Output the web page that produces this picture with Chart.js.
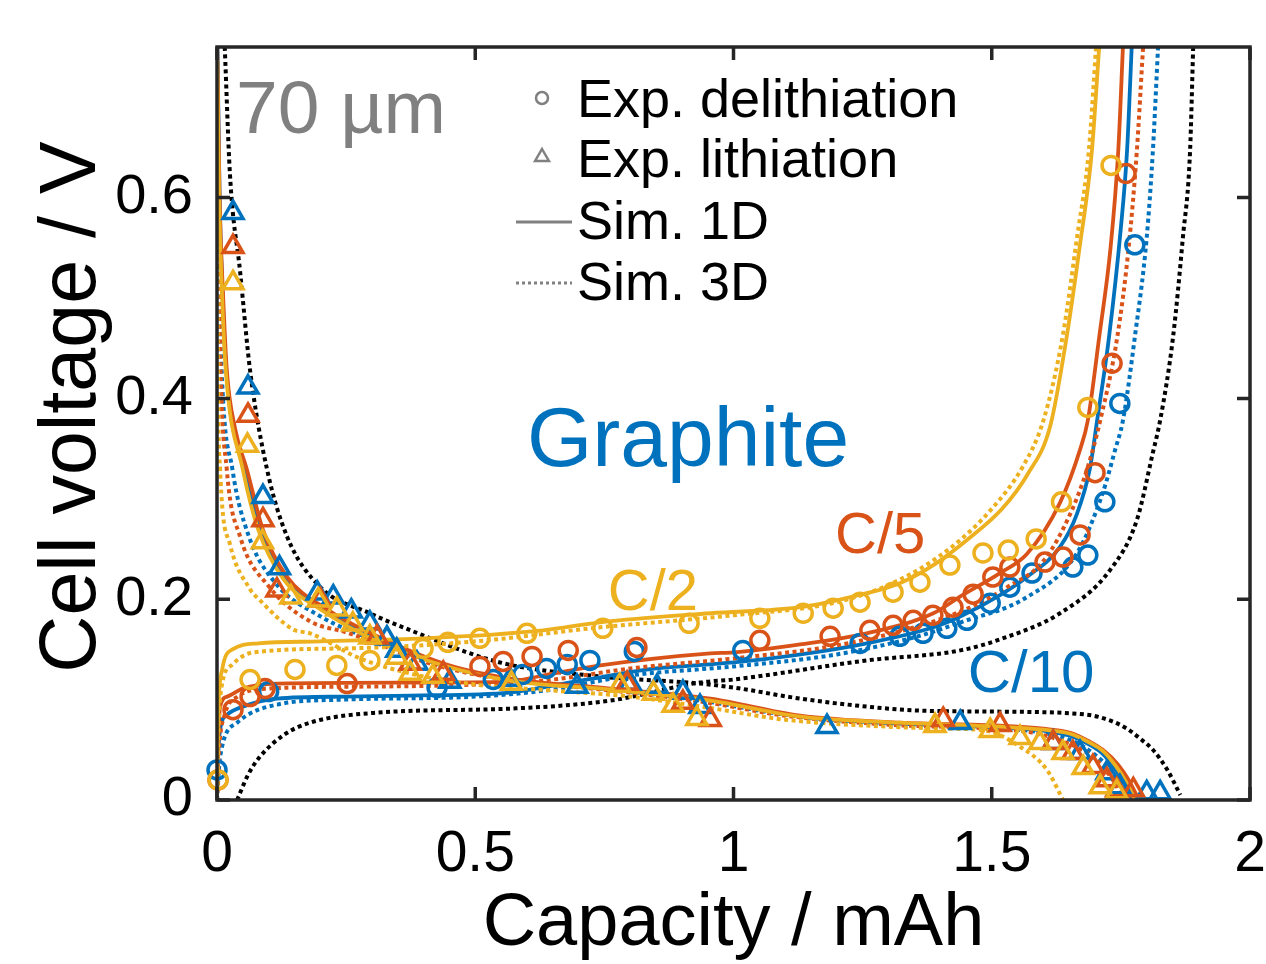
<!DOCTYPE html>
<html><head><meta charset="utf-8">
<script src="https://cdn.jsdelivr.net/npm/chart.js@4.4.1/dist/chart.umd.min.js"></script>
<style>html,body{margin:0;padding:0;background:#fff;}#wrap{width:1266px;height:964px;}</style>
</head><body><div id="wrap"><canvas id="c" width="1266" height="964"></canvas></div>
<script>
// ---------- axis ticks ----------
const xTicks = [0, 0.5, 1, 1.5, 2];
const xTickLabels = ['0', '0.5', '1', '1.5', '2'];
const yTicks = [0, 0.2, 0.4, 0.6];
const yTickLabels = ['0', '0.2', '0.4', '0.6'];

// ---------- experimental: delithiation (circles) ----------
const expDelithC10 = [[0,0.03],[0.1,0.108],[0.426,0.112],[0.535,0.12],[0.592,0.125],[0.638,0.131],[0.678,0.135],[0.722,0.139],[0.808,0.148],[1.018,0.149],[1.245,0.156],[1.322,0.163],[1.367,0.166],[1.413,0.171],[1.452,0.179],[1.497,0.196],[1.535,0.212],[1.578,0.226],[1.657,0.232],[1.686,0.244],[1.719,0.297],[1.748,0.395],[1.777,0.553]];
const expDelithC5 = [[0.002,0.02],[0.031,0.09],[0.064,0.103],[0.093,0.111],[0.252,0.116],[0.509,0.133],[0.554,0.138],[0.61,0.143],[0.68,0.149],[0.813,0.152],[1.051,0.159],[1.187,0.163],[1.264,0.169],[1.309,0.174],[1.348,0.179],[1.386,0.184],[1.425,0.192],[1.464,0.205],[1.502,0.222],[1.535,0.232],[1.603,0.237],[1.638,0.242],[1.671,0.264],[1.7,0.326],[1.733,0.435],[1.76,0.624]];
const expDelithC2 = [[0.002,0.02],[0.064,0.12],[0.151,0.13],[0.232,0.134],[0.296,0.139],[0.399,0.151],[0.447,0.157],[0.509,0.161],[0.6,0.166],[0.747,0.171],[0.914,0.176],[1.051,0.181],[1.135,0.186],[1.193,0.191],[1.245,0.197],[1.309,0.207],[1.361,0.217],[1.419,0.234],[1.483,0.246],[1.532,0.249],[1.586,0.26],[1.635,0.297],[1.686,0.391],[1.731,0.632]];

// ---------- experimental: lithiation (triangles) ----------
const expLithC10 = [[0.031,0.585],[0.06,0.411],[0.089,0.302],[0.121,0.231],[0.194,0.206],[0.225,0.202],[0.26,0.188],[0.296,0.176],[0.329,0.161],[0.348,0.149],[0.387,0.136],[0.451,0.118],[0.567,0.12],[0.697,0.113],[0.8,0.116],[0.852,0.113],[0.902,0.107],[0.935,0.093],[1.181,0.073],[1.439,0.077],[1.619,0.057],[1.671,0.047],[1.723,0.027],[1.748,0.013],[1.8,0.007],[1.826,0.007]];
const expLithC5 = [[0.031,0.551],[0.06,0.383],[0.089,0.279],[0.116,0.209],[0.2,0.199],[0.31,0.162],[0.374,0.136],[0.438,0.126],[0.794,0.116],[0.902,0.097],[0.955,0.08],[1.406,0.08],[1.516,0.075],[1.619,0.057],[1.657,0.047],[1.696,0.033],[1.723,0.02],[1.742,0.01],[1.774,0.01]];
const expLithC2 = [[0.031,0.515],[0.059,0.353],[0.088,0.257],[0.143,0.202],[0.196,0.199],[0.232,0.19],[0.263,0.175],[0.296,0.162],[0.348,0.142],[0.374,0.126],[0.418,0.123],[0.57,0.116],[0.78,0.114],[0.845,0.106],[0.883,0.094],[0.929,0.081],[1.39,0.074],[1.497,0.069],[1.555,0.062],[1.593,0.057],[1.638,0.047],[1.677,0.032],[1.71,0.013],[1.742,0.008]];

// ---------- simulation 1D (solid) ----------
const sim1DDelithC10 = [[0,0],[0.002,0.04],[0.006,0.07],[0.02,0.085],[0.05,0.093],[0.116,0.101],[0.25,0.103],[0.374,0.104],[0.567,0.107],[0.65,0.114],[0.75,0.123],[0.85,0.131],[1.0,0.137],[1.13,0.145],[1.258,0.156],[1.387,0.172],[1.44,0.183],[1.516,0.204],[1.568,0.222],[1.632,0.252],[1.665,0.285],[1.69,0.33],[1.704,0.378],[1.727,0.461],[1.75,0.57],[1.762,0.647],[1.771,0.75]];
const sim1DDelithC5 = [[0,0],[0.002,0.05],[0.006,0.093],[0.02,0.103],[0.05,0.111],[0.116,0.116],[0.374,0.117],[0.567,0.118],[0.631,0.124],[0.742,0.134],[0.955,0.146],[1.0,0.147],[1.129,0.155],[1.258,0.166],[1.387,0.186],[1.44,0.203],[1.516,0.226],[1.568,0.245],[1.632,0.296],[1.671,0.349],[1.686,0.378],[1.708,0.461],[1.73,0.55],[1.745,0.647],[1.754,0.75]];
const sim1DDelithC2 = [[0,0],[0.002,0.08],[0.01,0.13],[0.03,0.15],[0.08,0.156],[0.2,0.158],[0.4,0.161],[0.631,0.169],[0.742,0.177],[0.955,0.186],[1.129,0.192],[1.25,0.205],[1.322,0.216],[1.39,0.235],[1.452,0.259],[1.52,0.29],[1.57,0.325],[1.613,0.372],[1.645,0.461],[1.67,0.55],[1.694,0.647],[1.708,0.75]];
const sim1DLithC10 = [[0.001,0.75],[0.005,0.6],[0.011,0.5],[0.018,0.428],[0.053,0.329],[0.085,0.269],[0.134,0.221],[0.21,0.19],[0.31,0.16],[0.438,0.135],[0.567,0.12],[0.761,0.11],[0.955,0.1],[1.129,0.083],[1.322,0.076],[1.516,0.072],[1.6,0.069],[1.652,0.064],[1.69,0.055],[1.715,0.046],[1.74,0.03],[1.757,0.015],[1.772,0]];
const sim1DLithC5 = [[0.0005,0.75],[0.005,0.6],[0.012,0.5],[0.019,0.428],[0.035,0.37],[0.058,0.329],[0.089,0.269],[0.136,0.222],[0.213,0.19],[0.29,0.168],[0.438,0.136],[0.567,0.121],[0.761,0.111],[0.955,0.101],[1.129,0.084],[1.322,0.077],[1.516,0.074],[1.6,0.071],[1.652,0.067],[1.69,0.058],[1.715,0.05],[1.745,0.035],[1.765,0.02],[1.785,0]];
const sim1DLithC2 = [[0,0.75],[0.004,0.6],[0.01,0.5],[0.017,0.428],[0.05,0.329],[0.08,0.269],[0.13,0.219],[0.2,0.19],[0.31,0.158],[0.438,0.134],[0.567,0.119],[0.761,0.11],[0.955,0.099],[1.129,0.083],[1.322,0.077],[1.516,0.073],[1.6,0.07],[1.652,0.066],[1.69,0.057],[1.715,0.049],[1.74,0.034],[1.76,0.018],[1.777,0]];

// ---------- simulation 3D (dotted) ----------
const sim3DDelithC10 = [[0,0],[0.006,0.043],[0.039,0.077],[0.116,0.095],[0.244,0.1],[0.5,0.103],[0.65,0.11],[0.8,0.124],[1.0,0.133],[1.2,0.145],[1.35,0.162],[1.44,0.177],[1.568,0.202],[1.665,0.246],[1.715,0.306],[1.739,0.349],[1.754,0.378],[1.777,0.461],[1.8,0.56],[1.812,0.647],[1.822,0.75]];
const sim3DDelithC5 = [[0,0],[0.004,0.05],[0.015,0.085],[0.04,0.103],[0.1,0.111],[0.3,0.113],[0.5,0.115],[0.65,0.12],[0.8,0.131],[1.0,0.141],[1.2,0.154],[1.35,0.172],[1.45,0.19],[1.53,0.212],[1.6,0.238],[1.652,0.285],[1.685,0.33],[1.71,0.378],[1.743,0.461],[1.765,0.55],[1.781,0.647],[1.793,0.75]];
const sim3DDelithC2 = [[0,0],[0.003,0.07],[0.008,0.11],[0.03,0.135],[0.07,0.147],[0.25,0.151],[0.5,0.158],[0.742,0.172],[1.0,0.184],[1.2,0.197],[1.32,0.219],[1.42,0.251],[1.5,0.29],[1.56,0.332],[1.6,0.378],[1.637,0.461],[1.665,0.56],[1.688,0.647],[1.702,0.75]];
const sim3DLithC10 = [[0,0.75],[0.003,0.55],[0.009,0.428],[0.03,0.329],[0.06,0.265],[0.11,0.218],[0.2,0.183],[0.31,0.158],[0.45,0.132],[0.6,0.118],[0.8,0.108],[0.95,0.098],[1.1,0.085],[1.3,0.075],[1.5,0.071],[1.6,0.067],[1.66,0.058],[1.7,0.045],[1.73,0.03],[1.755,0.01],[1.765,0]];
const sim3DLithC5 = [[0,0.75],[0.002,0.6],[0.006,0.45],[0.019,0.329],[0.045,0.262],[0.1,0.213],[0.18,0.178],[0.25,0.167],[0.31,0.156],[0.4,0.138],[0.5,0.125],[0.65,0.115],[0.8,0.107],[0.95,0.097],[1.1,0.084],[1.3,0.075],[1.5,0.071],[1.58,0.067],[1.64,0.058],[1.69,0.045],[1.72,0.03],[1.745,0.01],[1.752,0]];
const sim3DLithC2 = [[0,0.75],[0.001,0.5],[0.006,0.329],[0.025,0.255],[0.064,0.21],[0.083,0.199],[0.147,0.17],[0.18,0.166],[0.277,0.141],[0.374,0.126],[0.5,0.115],[0.65,0.109],[0.8,0.103],[0.95,0.092],[1.1,0.08],[1.3,0.073],[1.42,0.071],[1.49,0.069],[1.555,0.053],[1.607,0.03],[1.638,0]];
const sim3DDelithBlack = [[0.039,0],[0.06,0.025],[0.083,0.043],[0.13,0.065],[0.18,0.077],[0.31,0.087],[0.567,0.091],[0.761,0.099],[0.935,0.117],[1.0,0.12],[1.258,0.139],[1.439,0.149],[1.516,0.16],[1.632,0.186],[1.729,0.229],[1.781,0.279],[1.812,0.346],[1.826,0.378],[1.851,0.461],[1.87,0.56],[1.884,0.647],[1.89,0.75]];
const sim3DLithBlack = [[0.015,0.75],[0.025,0.624],[0.045,0.525],[0.064,0.428],[0.097,0.329],[0.136,0.262],[0.2,0.212],[0.296,0.186],[0.36,0.172],[0.548,0.137],[0.742,0.123],[0.935,0.116],[1.0,0.112],[1.129,0.101],[1.258,0.093],[1.361,0.089],[1.516,0.088],[1.684,0.085],[1.73,0.079],[1.762,0.071],[1.79,0.06],[1.812,0.05],[1.84,0.03],[1.865,0.005]];

// ---------- styling ----------
const BLUE = '#0072BD', ORANGE = '#D95319', YELLOW = '#EDB120', BLACK = '#000000', GRAY = '#808080';
const FONT = "'Liberation Sans', Arial, Helvetica, sans-serif";

const toXY = arr => arr.map(([x, y]) => ({x, y}));
function simSet(arr, color, dotted, order) {
  return {data: toXY(arr), showLine: true, borderColor: color, backgroundColor: color,
    borderWidth: dotted ? 4 : 3.8, borderDash: dotted ? [4, 3.5] : [], pointRadius: 0, pointHoverRadius: 0,
    cubicInterpolationMode: 'monotone', fill: false, order, clip: 0};
}
function expSet(arr, color, style, order) {
  return {data: toXY(arr), showLine: false, borderColor: color, backgroundColor: 'rgba(0,0,0,0)',
    pointStyle: style, pointRadius: style === 'circle' ? 9 : 11.5, pointBorderWidth: 3.5,
    pointHoverRadius: 0, order, clip: false};
}

const datasets = [
  expSet(expDelithC2, YELLOW, 'circle', 0), expSet(expLithC2, YELLOW, 'triangle', 0),
  expSet(expDelithC5, ORANGE, 'circle', 1), expSet(expLithC5, ORANGE, 'triangle', 1),
  expSet(expDelithC10, BLUE, 'circle', 2), expSet(expLithC10, BLUE, 'triangle', 2),
  simSet(sim1DDelithC2, YELLOW, false, 3), simSet(sim1DLithC2, YELLOW, false, 3),
  simSet(sim3DDelithC2, YELLOW, true, 4), simSet(sim3DLithC2, YELLOW, true, 4),
  simSet(sim1DDelithC5, ORANGE, false, 5), simSet(sim1DLithC5, ORANGE, false, 5),
  simSet(sim3DDelithC5, ORANGE, true, 6), simSet(sim3DLithC5, ORANGE, true, 6),
  simSet(sim1DDelithC10, BLUE, false, 7), simSet(sim1DLithC10, BLUE, false, 7),
  simSet(sim3DDelithC10, BLUE, true, 8), simSet(sim3DLithC10, BLUE, true, 8),
  simSet(sim3DDelithBlack, BLACK, true, 9), simSet(sim3DLithBlack, BLACK, true, 9)
];

// text annotations in data coordinates
const annotations = [
  {text: '70 µm', x: 0.037, y: 0.664, color: GRAY, size: 75, align: 'left'},
  {text: 'Graphite', x: 0.912, y: 0.333, color: BLUE, size: 84, align: 'center'},
  {text: 'C/5', x: 1.284, y: 0.246, color: ORANGE, size: 58, align: 'center'},
  {text: 'C/2', x: 0.844, y: 0.189, color: YELLOW, size: 58, align: 'center'},
  {text: 'C/10', x: 1.576, y: 0.108, color: BLUE, size: 60, align: 'center'}
];
const yTitle = 'Cell voltage / V';

const overlay = {
  id: 'overlay',
  afterDatasetsDraw(chart) {
    const {ctx, chartArea: a, scales: {x, y}} = chart;
    ctx.save();
    // box + inward ticks
    ctx.strokeStyle = '#262626';
    ctx.lineWidth = 3.5;
    ctx.strokeRect(a.left, a.top, a.right - a.left, a.bottom - a.top);
    const tl = 13;
    ctx.beginPath();
    xTicks.forEach(v => {
      const px = x.getPixelForValue(v);
      ctx.moveTo(px, a.bottom); ctx.lineTo(px, a.bottom - tl);
      ctx.moveTo(px, a.top); ctx.lineTo(px, a.top + tl);
    });
    yTicks.forEach(v => {
      const py = y.getPixelForValue(v);
      ctx.moveTo(a.left, py); ctx.lineTo(a.left + tl, py);
      ctx.moveTo(a.right, py); ctx.lineTo(a.right - tl, py);
    });
    ctx.stroke();
    // annotations
    ctx.textBaseline = 'alphabetic';
    annotations.forEach(t => {
      ctx.font = t.size + 'px ' + FONT;
      ctx.fillStyle = t.color;
      ctx.textAlign = t.align;
      ctx.fillText(t.text, x.getPixelForValue(t.x), y.getPixelForValue(t.y));
    });
    // y axis title
    ctx.save();
    ctx.translate(73, 407);
    ctx.rotate(-Math.PI / 2);
    ctx.font = '79px ' + FONT;
    ctx.fillStyle = '#000';
    ctx.textAlign = 'center';
    ctx.textBaseline = 'middle';
    ctx.fillText(yTitle, 0, 0);
    ctx.restore();
    // legend
    const lx = 542, tx = 577, rows = [102, 162, 224, 285];
    ctx.font = '54px ' + FONT;
    ctx.fillStyle = '#000';
    ctx.textAlign = 'left';
    ctx.textBaseline = 'middle';
    ['Exp. delithiation', 'Exp. lithiation', 'Sim. 1D', 'Sim. 3D'].forEach((s, i) => ctx.fillText(s, tx, rows[i]));
    ctx.strokeStyle = GRAY;
    ctx.lineWidth = 2.5;
    ctx.beginPath(); ctx.arc(lx, 98, 6, 0, Math.PI * 2); ctx.stroke();
    const r = 8, cy = 157;
    ctx.beginPath();
    ctx.moveTo(lx, cy - r); ctx.lineTo(lx + r * 0.866, cy + r * 0.5); ctx.lineTo(lx - r * 0.866, cy + r * 0.5); ctx.closePath(); ctx.stroke();
    ctx.lineWidth = 3;
    ctx.beginPath(); ctx.moveTo(516, 222); ctx.lineTo(572, 222); ctx.stroke();
    ctx.setLineDash([3, 3]);
    ctx.beginPath(); ctx.moveTo(516, 283); ctx.lineTo(572, 283); ctx.stroke();
    ctx.restore();
  }
};

new Chart(document.getElementById('c'), {
  type: 'scatter',
  data: {datasets},
  plugins: [overlay],
  options: {
    responsive: false, animation: false, devicePixelRatio: 1,
    layout: {padding: {top: 47, right: 16, left: 0, bottom: 0}},
    plugins: {legend: {display: false}, tooltip: {enabled: false}},
    elements: {line: {borderCapStyle: 'butt'}},
    scales: {
      x: {
        type: 'linear', min: 0, max: 2,
        afterBuildTicks: s => { s.ticks = xTicks.map(v => ({value: v})); },
        afterFit: s => { s.height = 164; s.paddingLeft = 0; s.paddingRight = 0; },
        grid: {display: false}, border: {display: false},
        ticks: {font: {family: FONT, size: 57}, color: '#000', padding: 13, maxRotation: 0,
          callback: (v, i) => xTickLabels[i]},
        title: {display: true, text: 'Capacity / mAh', color: '#000',
          font: {family: FONT, size: 74, lineHeight: 1}, padding: {top: 0, bottom: 2}}
      },
      y: {
        type: 'linear', min: 0, max: 0.75,
        afterBuildTicks: s => { s.ticks = yTicks.map(v => ({value: v})); },
        afterFit: s => { s.width = 217; s.paddingTop = 0; s.paddingBottom = 0; },
        grid: {display: false}, border: {display: false},
        ticks: {font: {family: FONT, size: 56}, color: '#000', padding: 16,
          callback: (v, i) => yTickLabels[i]},
        title: {display: false}
      }
    }
  }
});
</script></body></html>
